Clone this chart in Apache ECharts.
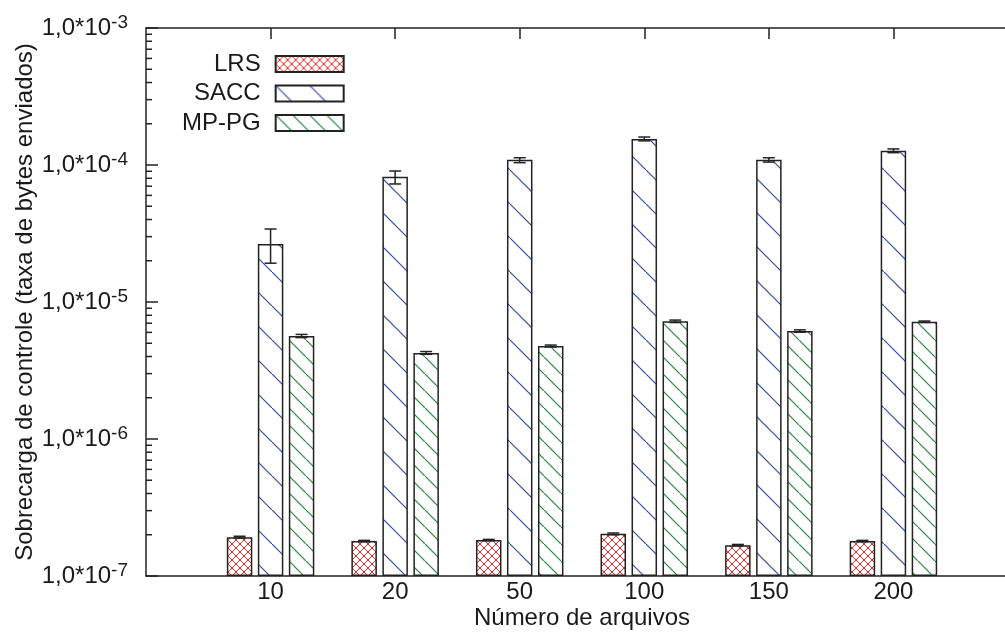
<!DOCTYPE html>
<html>
<head>
<meta charset="utf-8">
<script src="https://cdn.jsdelivr.net/npm/echarts@6/dist/echarts.min.js"></script>
<style>
html,body{margin:0;padding:0;background:#fff;}
#chart{width:1005px;height:632px;}
</style>
</head>
<body>
<div id="chart"></div>
<script>
// ---- data ----
const categories = ['10', '20', '50', '100', '150', '200'];
const seriesNames = ['LRS', 'SACC', 'MP-PG'];
const lrsValues  = [1.92e-7, 1.80e-7, 1.83e-7, 2.03e-7, 1.68e-7, 1.80e-7];
const lrsLow     = [1.89e-7, 1.78e-7, 1.81e-7, 2.00e-7, 1.66e-7, 1.78e-7];
const lrsHigh    = [1.95e-7, 1.82e-7, 1.85e-7, 2.06e-7, 1.70e-7, 1.82e-7];
const saccValues = [2.65e-5, 8.2e-5, 1.09e-4, 1.55e-4, 1.09e-4, 1.27e-4];
const saccLow    = [1.92e-5, 7.27e-5, 1.04e-4, 1.50e-4, 1.05e-4, 1.23e-4];
const saccHigh   = [3.41e-5, 9.04e-5, 1.13e-4, 1.60e-4, 1.13e-4, 1.31e-4];
const mppgValues = [5.65e-6, 4.25e-6, 4.77e-6, 7.23e-6, 6.14e-6, 7.18e-6];
const mppgLow    = [5.50e-6, 4.15e-6, 4.70e-6, 7.08e-6, 6.02e-6, 7.10e-6];
const mppgHigh   = [5.80e-6, 4.35e-6, 4.85e-6, 7.38e-6, 6.26e-6, 7.26e-6];
const yMin = 1e-7, yMax = 1e-3;
const yMajorExponents = [-7, -6, -5, -4, -3];
const yMinorMultipliers = [2, 3, 4, 5, 6, 7, 8, 9];

// ---- style ----
const FONT = "'Liberation Sans', Arial, Helvetica, sans-serif";
const INK = '#1a1a1a';
const BAR_W = 25.5;
const BAR_GAP = 5.5;
const CAP_W = 12;

function makePattern(size, color, lw, draw) {
  const c = document.createElement('canvas');
  c.width = size; c.height = size;
  const ctx = c.getContext('2d');
  ctx.fillStyle = '#fff';
  ctx.fillRect(0, 0, size, size);
  ctx.strokeStyle = color;
  ctx.lineWidth = lw;
  draw(ctx, size);
  return { image: c, repeat: 'repeat' };
}
const lrsPattern = makePattern(8, '#f02828', 1, (ctx, s) => {
  ctx.beginPath();
  ctx.moveTo(-1, -1); ctx.lineTo(s + 1, s + 1);
  ctx.moveTo(s + 1, -1); ctx.lineTo(-1, s + 1);
  ctx.stroke();
});
const saccPattern = makePattern(34, '#2f4bb0', 1.2, (ctx, s) => {
  ctx.beginPath();
  ctx.moveTo(-2, -2); ctx.lineTo(s + 2, s + 2);
  ctx.stroke();
});
const mppgPattern = makePattern(17, '#238a3a', 1.2, (ctx, s) => {
  ctx.beginPath();
  ctx.moveTo(-2, -2); ctx.lineTo(s + 2, s + 2);
  ctx.stroke();
});

const axisCats = [''].concat(categories, ['']);
function padData(arr) { return ['-'].concat(arr, ['-']); }

function barSeries(name, values, pattern) {
  return {
    name: name, type: 'bar', data: padData(values),
    barWidth: BAR_W, barGap: (BAR_GAP / BAR_W * 100) + '%',
    itemStyle: { color: pattern, borderColor: '#222', borderWidth: 1.5 },
    emphasis: { disabled: true }, z: 2
  };
}
function errSeries(low, high, offset) {
  return {
    type: 'custom', silent: true, z: 4,
    encode: { x: 0, y: [1, 2] },
    data: low.map((l, i) => [i + 1, l, high[i]]),
    renderItem: function (params, api) {
      const x = api.value(0);
      const lo = api.coord([x, api.value(1)]);
      const hi = api.coord([x, api.value(2)]);
      const cx = lo[0] + offset;
      const st = { stroke: '#222', lineWidth: 1.5 };
      return { type: 'group', children: [
        { type: 'line', shape: { x1: cx, y1: hi[1], x2: cx, y2: lo[1] }, style: st },
        { type: 'line', shape: { x1: cx - CAP_W / 2, y1: hi[1], x2: cx + CAP_W / 2, y2: hi[1] }, style: st },
        { type: 'line', shape: { x1: cx - CAP_W / 2, y1: lo[1], x2: cx + CAP_W / 2, y2: lo[1] }, style: st }
      ]};
    }
  };
}
const minorTickValues = [];
yMajorExponents.slice(0, -1).forEach(e => yMinorMultipliers.forEach(m => minorTickValues.push(m * Math.pow(10, e))));

const step = BAR_W + BAR_GAP;
const chart = echarts.init(document.getElementById('chart'), null, { renderer: 'canvas' });
chart.setOption({
  animation: false,
  textStyle: { fontFamily: FONT },
  grid: { left: 146, right: -13, top: 28, bottom: 56, containLabel: false, outerBoundsMode: 'none' },
  legend: {
    data: seriesNames, orient: 'vertical', align: 'right',
    left: 177, top: 47, itemWidth: 68, itemHeight: 16, itemGap: 5.5,
    icon: 'rect', selectedMode: false,
    textStyle: { fontFamily: FONT, fontSize: 24, color: INK, padding: [0, 10, 0, 0] }
  },
  xAxis: [{
    type: 'category', data: axisCats, boundaryGap: false,
    axisLine: { lineStyle: { color: '#222', width: 1.5 } },
    axisTick: { show: false },
    axisLabel: { fontFamily: FONT, fontSize: 24, color: INK, margin: 4, interval: 0 },
    name: 'Número de arquivos', nameLocation: 'middle', nameGap: 30, nameMoveOverlap: false,
    nameTextStyle: { fontFamily: FONT, fontSize: 24, color: INK }
  }, {
    type: 'category', data: axisCats, boundaryGap: false, position: 'top',
    axisLine: { lineStyle: { color: '#222', width: 1.5 } },
    axisTick: { show: true, inside: true, length: 11, interval: (i, v) => v !== '', lineStyle: { color: '#222', width: 1.5 } },
    axisLabel: { show: false }
  }],
  yAxis: {
    type: 'log', logBase: 10, min: yMin, max: yMax, startValue: yMin, splitNumber: 4,
    axisLine: { show: true, lineStyle: { color: '#222', width: 1.5 } },
    axisTick: { show: true, inside: true, length: 12, lineStyle: { color: '#222', width: 1.5 } },
    splitLine: { show: false },
    axisLabel: {
      margin: 18, color: INK,
      formatter: function (v) {
        const e = Math.round(Math.log10(v));
        return '{b|1,0*10}{s|' + e + '}';
      },
      rich: {
        b: { fontFamily: FONT, fontSize: 24, color: INK, lineHeight: 30 },
        s: { fontFamily: FONT, fontSize: 19, color: INK, lineHeight: 14, verticalAlign: 'top' }
      }
    },
    name: 'Sobrecarga de controle (taxa de bytes enviados)', nameLocation: 'middle', nameGap: 109,
    nameMoveOverlap: false,
    nameTextStyle: { fontFamily: FONT, fontSize: 24, color: INK }
  },
  series: [
    barSeries('LRS', lrsValues, lrsPattern),
    barSeries('SACC', saccValues, saccPattern),
    barSeries('MP-PG', mppgValues, mppgPattern),
    errSeries(lrsLow, lrsHigh, -step),
    errSeries(saccLow, saccHigh, 0),
    errSeries(mppgLow, mppgHigh, step),
    {
      type: 'custom', silent: true, z: 5,
      encode: { x: 0, y: 1 },
      data: minorTickValues.map(v => [0, v]),
      renderItem: function (params, api) {
        const p = api.coord([0, api.value(1)]);
        return { type: 'line', shape: { x1: p[0], y1: p[1], x2: p[0] + 6, y2: p[1] }, style: { stroke: '#222', lineWidth: 1.5 } };
      }
    }
  ]
});
</script>
</body>
</html>
